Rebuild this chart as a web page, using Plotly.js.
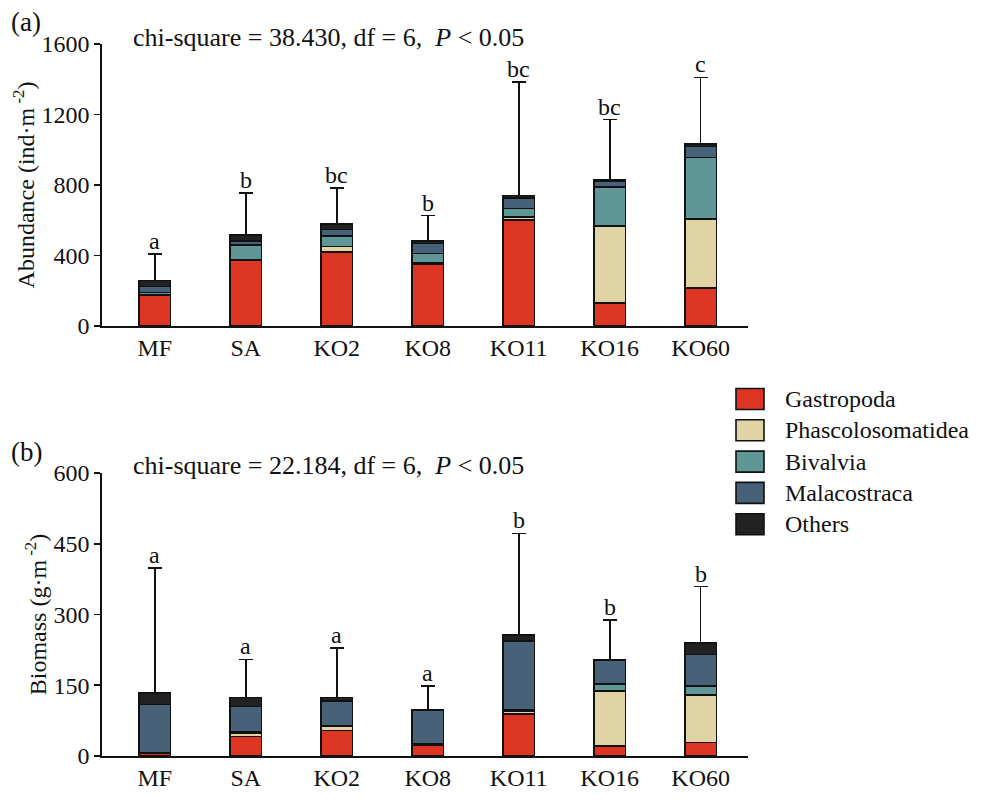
<!DOCTYPE html>
<html>
<head>
<meta charset="utf-8">
<script src="https://cdn.plot.ly/plotly-3.0.1.min.js"></script>
<style>html,body{margin:0;padding:0;background:#fff;}#chart{width:984px;height:799px;}</style>
</head>
<body>
<div id="chart"></div>
<script>
// ---- data ----
const categories = ['MF', 'SA', 'KO2', 'KO8', 'KO11', 'KO16', 'KO60'];
const groups = ['Gastropoda', 'Phascolosomatidea', 'Bivalvia', 'Malacostraca', 'Others'];

// (a) Abundance (ind·m-2)
const abGastropoda = [174, 372, 420, 348, 601, 132, 214];
const abPhascolosomatidea = [3, 6, 32, 8, 17, 437, 393];
const abBivalvia = [12, 80, 59, 56, 48, 221, 348];
const abMalacostraca = [36, 26, 37, 57, 60, 33, 63];
const abOthers = [34, 34, 32, 13, 15, 5, 15];
const abSD = [151, 235, 203, 144, 642, 343, 378];
const abLetters = ['a', 'b', 'bc', 'b', 'bc', 'bc', 'c'];

// (b) Biomass (g·m-2)
const bmGastropoda = [5, 41, 54, 22, 89, 21, 29];
const bmPhascolosomatidea = [1, 8, 10, 3, 7, 117, 100];
const bmBivalvia = [0, 2, 0, 0, 2, 15, 19];
const bmMalacostraca = [103, 54, 53, 73, 146, 51, 67];
const bmOthers = [25, 19, 7, 1, 12, 1, 24];
const bmSD = [264, 81, 105, 50, 216, 83, 120];
const bmLetters = ['a', 'a', 'a', 'a', 'b', 'b', 'b'];

const colors = ['#dc3522', '#e0d4a4', '#5e9795', '#476179', '#222222'];

// ---- build ----
const FONT = 'Liberation Serif';
const FS = 24;
const abSeries = [abGastropoda, abPhascolosomatidea, abBivalvia, abMalacostraca, abOthers];
const bmSeries = [bmGastropoda, bmPhascolosomatidea, bmBivalvia, bmMalacostraca, bmOthers];

function makeTraces(series, sd, xa, ya) {
  return series.map((vals, i) => {
    const t = {
      type: 'bar', x: categories, y: vals, name: groups[i],
      xaxis: xa, yaxis: ya, width: 0.35, showlegend: false,
      marker: { color: colors[i], line: { color: '#111', width: 1.6 } },
      hoverinfo: 'y+name'
    };
    if (i === series.length - 1) {
      t.error_y = { type: 'data', symmetric: false, array: sd,
        arrayminus: sd.map(() => 0), color: '#111', thickness: 1.6, width: 7 };
    }
    return t;
  });
}

const data = [].concat(makeTraces(abSeries, abSD, 'x', 'y'), makeTraces(bmSeries, bmSD, 'x2', 'y2'));

function totals(series) {
  return categories.map((_, j) => series.reduce((s, arr) => s + arr[j], 0));
}
const abTot = totals(abSeries);
const bmTot = totals(bmSeries);

const annotations = [];
categories.forEach((c, j) => {
  annotations.push({ x: c, y: abTot[j] + abSD[j], xref: 'x', yref: 'y', text: abLetters[j],
    showarrow: false, yanchor: 'bottom', yshift: -2, font: { family: FONT, size: FS, color: '#111' } });
  annotations.push({ x: c, y: bmTot[j] + bmSD[j], xref: 'x2', yref: 'y2', text: bmLetters[j],
    showarrow: false, yanchor: 'bottom', yshift: -2, font: { family: FONT, size: FS, color: '#111' } });
});

const W = 984, H = 799, mT = 20, mB = 20, mL = 102, mR = 236;
function py(pix) { return (H - mB - pix) / (H - mT - mB); }
function px(pix) { return (pix - mL) / (W - mL - mR); }

annotations.push({ xref: 'paper', yref: 'paper', x: px(131), y: py(37), xanchor: 'left', yanchor: 'middle',
  text: 'chi-square = 38.430, df = 6,  <i>P</i> < 0.05', showarrow: false, font: { family: FONT, size: 26, color: '#111' } });
annotations.push({ xref: 'paper', yref: 'paper', x: px(131), y: py(465), xanchor: 'left', yanchor: 'middle',
  text: 'chi-square = 22.184, df = 6,  <i>P</i> < 0.05', showarrow: false, font: { family: FONT, size: 26, color: '#111' } });
annotations.push({ xref: 'paper', yref: 'paper', x: px(9), y: py(22), xanchor: 'left', yanchor: 'middle',
  text: '(a)', showarrow: false, font: { family: FONT, size: 27, color: '#111' } });
annotations.push({ xref: 'paper', yref: 'paper', x: px(9), y: py(452), xanchor: 'left', yanchor: 'middle',
  text: '(b)', showarrow: false, font: { family: FONT, size: 27, color: '#111' } });

// custom legend (large swatches)
const shapes = [];
groups.forEach((g, i) => {
  const cy = 399 + i * 31.3;
  shapes.push({ type: 'rect', xref: 'paper', yref: 'paper', x0: px(736), x1: px(764), y0: py(cy + 10.5), y1: py(cy - 10.5),
    fillcolor: colors[i], line: { color: '#111', width: 1.6 } });
  annotations.push({ xref: 'paper', yref: 'paper', x: px(783), y: py(cy), xanchor: 'left', yanchor: 'middle',
    text: g, showarrow: false, font: { family: FONT, size: FS, color: '#111' } });
});

const axisCommon = {
  showgrid: false, zeroline: false, showline: true, linecolor: '#111', linewidth: 1.6,
  tickfont: { family: FONT, size: FS, color: '#111' }, automargin: false
};

const layout = {
  width: W, height: H, margin: { l: mL, r: mR, t: mT, b: mB },
  paper_bgcolor: '#fff', plot_bgcolor: '#fff', barmode: 'stack', showlegend: false,
  font: { family: FONT, color: '#111' },
  xaxis: Object.assign({}, axisCommon, { domain: [0, 1], anchor: 'y', range: [-0.58, 6.52], ticks: '', ticklen: 0 }),
  yaxis: Object.assign({}, axisCommon, { domain: [py(326), py(44)], anchor: 'x', range: [0, 1600],
    tickvals: [0, 400, 800, 1200, 1600], ticks: 'outside', ticklen: 6, tickwidth: 1.6, tickcolor: '#111',
    title: { text: 'Abundance (ind·m<sup> -2</sup>)', font: { family: FONT, size: FS, color: '#111' }, standoff: 0 } }),
  xaxis2: Object.assign({}, axisCommon, { domain: [0, 1], anchor: 'y2', range: [-0.58, 6.52], ticks: '', ticklen: 0 }),
  yaxis2: Object.assign({}, axisCommon, { domain: [py(756), py(473)], anchor: 'x2', range: [0, 600],
    tickvals: [0, 150, 300, 450, 600], ticks: 'outside', ticklen: 6, tickwidth: 1.6, tickcolor: '#111',
    title: { text: 'Biomass (g·m<sup> -2</sup>)', font: { family: FONT, size: FS, color: '#111' }, standoff: 0 } }),
  annotations: annotations, shapes: shapes
};

Plotly.newPlot('chart', data, layout, { displayModeBar: false, staticPlot: true });
</script>
</body>
</html>
